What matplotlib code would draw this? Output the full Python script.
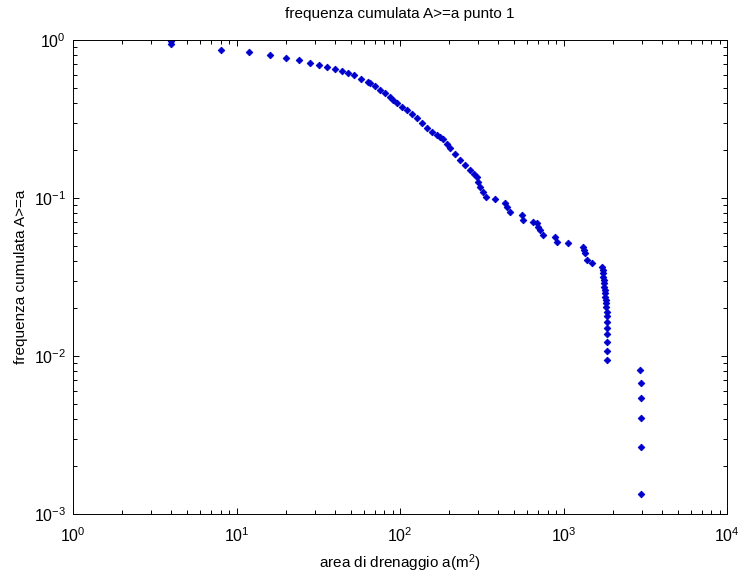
import numpy as np
import matplotlib
matplotlib.use("Agg")
import matplotlib.pyplot as plt
from matplotlib.ticker import LogLocator, NullFormatter

# drainage area (m^2) and cumulative frequency A>=a
area_head = [4, 4, 8, 12, 16, 20, 24, 28, 32, 36, 40, 44, 48, 52, 58, 64]
freq_head = [0.99, 0.94, 0.864, 0.834, 0.804, 0.773, 0.744, 0.715, 0.695,
             0.675, 0.655, 0.634, 0.621, 0.598, 0.566, 0.545]

area_curve = [65.5, 70.3, 75.5, 81, 86.9, 91.2, 95.4, 102.4, 109.9, 117.9,
              126.6, 135.8, 145.7, 156.3, 167.7, 175.7, 184, 193, 202.2,
              216.9, 232.8, 249.8, 268, 281.6, 294.5, 301.2, 308.5, 323.3,
              333.4]
freq_curve = [0.532, 0.508, 0.4826, 0.46, 0.4377, 0.4172, 0.3975, 0.3783,
              0.3605, 0.3401, 0.3194, 0.297, 0.276, 0.2628, 0.2504, 0.2432,
              0.2352, 0.2207, 0.2064, 0.19, 0.174, 0.1618, 0.1504, 0.1429,
              0.1364, 0.1268, 0.1179, 0.1096, 0.1019]

area_tail = [381, 438.7, 454.4, 470.7, 555, 567.8, 651, 685.6, 703.2, 718.3,
             752.4, 887.2, 908.7, 1070, 1322, 1335, 1354, 1387, 1488]
freq_tail = [0.0983, 0.0926, 0.0877, 0.0819, 0.078, 0.0726, 0.0705, 0.0692,
             0.0655, 0.0627, 0.0583, 0.0569, 0.0529, 0.0517, 0.0492, 0.0469,
             0.0447, 0.0405, 0.0386]

area_col = [1713, 1732, 1744, 1751, 1762, 1769, 1777, 1786, 1794, 1802, 1811,
            1820, 1828, 1837, 1837, 1840, 1845, 1845, 1850, 1850, 1855]
freq_col = [0.0367, 0.035, 0.0334, 0.0318, 0.0303, 0.0288, 0.0274, 0.0262,
            0.0249, 0.0237, 0.0226, 0.0216, 0.0205, 0.019, 0.0178, 0.0164,
            0.0151, 0.0137, 0.0122, 0.0108, 0.0095]

area_last = [2940, 2960, 2960, 2960, 2960, 2960]
freq_last = [0.00815, 0.00672, 0.0054, 0.00403, 0.00267, 0.00134]

area = area_head + area_curve + area_tail + area_col + area_last
freq = freq_head + freq_curve + freq_tail + freq_col + freq_last

plt.rcParams['font.family'] = ['Liberation Sans', 'DejaVu Sans']
plt.rcParams['mathtext.default'] = 'regular'
plt.rcParams['font.size'] = 10

fig = plt.figure(figsize=(7.44, 5.77), dpi=100)
ax = fig.add_axes([73/744, 1-514/577, 654/744, 474/577])

ax.plot(area, freq, 'D', color='#0000cc', ms=3.4, mec='#0000cc', mew=0.6,
        linestyle='none')

ax.set_xscale('log')
ax.set_yscale('log')
ax.set_xlim(1, 1e4)
ax.set_ylim(1e-3, 1)

ax.xaxis.set_minor_locator(LogLocator(base=10, subs=np.arange(2, 10)))
ax.yaxis.set_minor_locator(LogLocator(base=10, subs=np.arange(2, 10)))
ax.xaxis.set_minor_formatter(NullFormatter())
ax.yaxis.set_minor_formatter(NullFormatter())

ax.tick_params(which='both', direction='in', top=True, right=True,
               width=0.7, labelsize=11.5)
ax.tick_params(which='major', length=4.3)
ax.tick_params(axis='x', which='major', pad=9)
ax.tick_params(axis='y', which='major', pad=5)
ax.tick_params(which='minor', length=2.6)
for s in ax.spines.values():
    s.set_linewidth(0.7)

ax.set_title('frequenza cumulata A>=a punto 1', fontsize=11, pad=16)
ax.set_xlabel('area di drenaggio a(m$^2$)', fontsize=11, labelpad=5)
ax.set_ylabel('frequenza cumulata A>=a', fontsize=11, labelpad=4)

fig.savefig('out.png', dpi=100, facecolor='white')
